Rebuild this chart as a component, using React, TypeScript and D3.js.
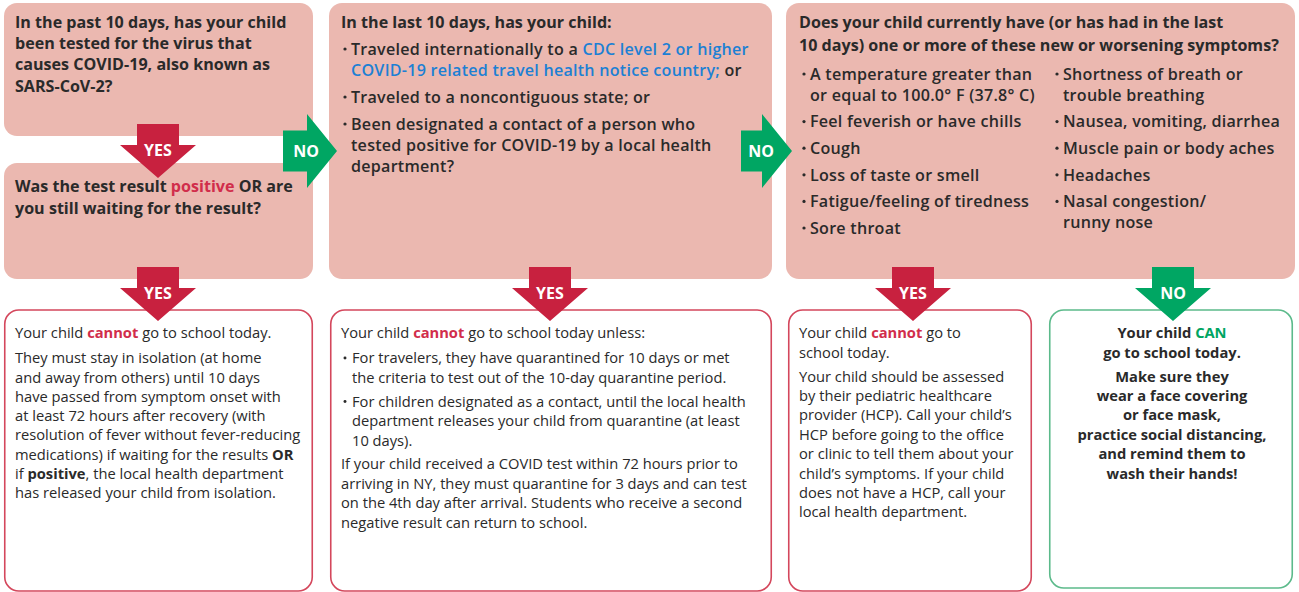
import React from 'react';
import * as d3 from 'd3';

const width = 1299;
const height = 592;

const PINK = '#ebb8b0';
const RED = '#c8213f';
const GREEN = '#00a663';
const INK = '#2a2a2a';
const TONES = { red: '#d12d4b', blue: '#1c80d4', green: '#00a562', bold: INK };

// a line is a list of runs: plain text or [text, tone]
type Tone = 'red' | 'blue' | 'green' | 'bold';
type Run = string | [string, Tone];
type Line = Run[];
type Para = Line[];

// ---- question texts ----
const firstQuestion: Para[] = [[
  ['In the past 10 days, has your child'],
  ['been tested for the virus that'],
  ['causes COVID-19, also known as'],
  ['SARS-CoV-2?'],
]];
const secondQuestion: Para[] = [[
  ['Was the test result ', ['positive', 'red'], ' OR are'],
  ['you still waiting for the result?'],
]];
const travelTitle: Para[] = [[['In the last 10 days, has your child:']]];
const travelItems: Para[] = [
  [['Traveled internationally to a ', ['CDC level 2 or higher', 'blue']],
   [['COVID-19 related travel health notice country;', 'blue'], ' or']],
  [['Traveled to a noncontiguous state; or']],
  [['Been designated a contact of a person who'],
   ['tested positive for COVID-19 by a local health'],
   ['department?']],
];
const symptomTitle: Para[] = [[
  ['Does your child currently have (or has had in the last'],
  ['10 days) one or more of these new or worsening symptoms?'],
]];
const symptomsLeft: Para[] = [
  [['A temperature greater than'], ['or equal to 100.0° F (37.8° C)']],
  [['Feel feverish or have chills']],
  [['Cough']],
  [['Loss of taste or smell']],
  [['Fatigue/feeling of tiredness']],
  [['Sore throat']],
];
const symptomsRight: Para[] = [
  [['Shortness of breath or'], ['trouble breathing']],
  [['Nausea, vomiting, diarrhea']],
  [['Muscle pain or body aches']],
  [['Headaches']],
  [['Nasal congestion/'], ['runny nose']],
];

// ---- outcome texts ----
const isolationText: Para[] = [
  [['Your child ', ['cannot', 'red'], ' go to school today.']],
  [['They must stay in isolation (at home'],
   ['and away from others) until 10 days'],
   ['have passed from symptom onset with'],
   ['at least 72 hours after recovery (with'],
   ['resolution of fever without fever-reducing'],
   ['medications) if waiting for the results ', ['OR', 'bold']],
   ['if ', ['positive', 'bold'], ', the local health department'],
   ['has released your child from isolation.']],
];
const quarantineIntro: Para[] = [[['Your child ', ['cannot', 'red'], ' go to school today unless:']]];
const quarantineItems: Para[] = [
  [['For travelers, they have quarantined for 10 days or met'],
   ['the criteria to test out of the 10-day quarantine period.']],
  [['For children designated as a contact, until the local health'],
   ['department releases your child from quarantine (at least'],
   ['10 days).']],
];
const quarantineNote: Para[] = [[
  ['If your child received a COVID test within 72 hours prior to'],
  ['arriving in NY, they must quarantine for 3 days and can test'],
  ['on the 4th day after arrival. Students who receive a second'],
  ['negative result can return to school.'],
]];
const symptomOutcome: Para[] = [
  [['Your child ', ['cannot', 'red'], ' go to'], ['school today.']],
  [['Your child should be assessed'],
   ['by their pediatric healthcare'],
   ['provider (HCP). Call your child’s'],
   ['HCP before going to the office'],
   ['or clinic to tell them about your'],
   ['child’s symptoms. If your child'],
   ['does not have a HCP, call your'],
   ['local health department.']],
];
const canGoText: Para[] = [
  [['Your child ', ['CAN', 'green']], ['go to school today.']],
  [['Make sure they'], ['wear a face covering'], ['or face mask,'],
   ['practice social distancing,'], ['and remind them to'], ['wash their hands!']],
];

// boxes: [x0, y0, x1, y1]
const questionBoxes = [[4, 3, 313, 136], [4, 163, 313, 279], [329, 3, 772, 279], [786, 3, 1295, 279]];
const outcomeBoxes = [
  { b: [4, 310, 313, 591], c: '#d4475c' },
  { b: [330, 310, 772, 591], c: '#d4475c' },
  { b: [788, 310, 1032, 591], c: '#d4475c' },
  { b: [1049, 310, 1293, 588], c: '#5cba8b' },
];

// arrows
const downArrows = [
  { cx: 158, top: 124, label: 'YES', c: RED },
  { cx: 158, top: 267, label: 'YES', c: RED },
  { cx: 550, top: 267, label: 'YES', c: RED },
  { cx: 913, top: 267, label: 'YES', c: RED },
  { cx: 1173, top: 267, label: 'NO', c: GREEN },
];
const rightArrows = [
  { left: 283, cy: 151, shaft: 24, label: 'NO' },
  { left: 741, cy: 151, shaft: 21, label: 'NO' },
];

const downPath = (cx: number, top: number) => {
  const p = d3.path();
  const sw = 21, hw = 38, sh = 21, hh = 33;
  p.moveTo(cx - sw, top);
  p.lineTo(cx + sw, top);
  p.lineTo(cx + sw, top + sh);
  p.lineTo(cx + hw, top + sh);
  p.lineTo(cx, top + sh + hh);
  p.lineTo(cx - hw, top + sh);
  p.lineTo(cx - sw, top + sh);
  p.closePath();
  return p.toString();
};

const rightPath = (left: number, cy: number, shaft: number) => {
  const p = d3.path();
  const sh = 20.5, hh = 37, hl = 30;
  p.moveTo(left, cy - sh);
  p.lineTo(left + shaft, cy - sh);
  p.lineTo(left + shaft, cy - hh);
  p.lineTo(left + shaft + hl, cy);
  p.lineTo(left + shaft, cy + hh);
  p.lineTo(left + shaft, cy + sh);
  p.lineTo(left, cy + sh);
  p.closePath();
  return p.toString();
};

// place paragraphs: line centres from a linear step plus a gap per paragraph
const layout = (paras: Para[], y0: number, step: number, gap: number) => {
  const counts = paras.map(p => p.length);
  const starts = [0, ...d3.cumsum(counts)].slice(0, paras.length);
  const y = d3.scaleLinear().domain([0, 1]).range([y0, y0 + step]);
  return paras.flatMap((p, pi) =>
    p.map((line, li) => ({ line, y: y(starts[pi] + li) + pi * gap, first: li === 0 }))
  );
};

type BlockProps = {
  paras: Para[]; x: number; y0: number; step: number; gap: number;
  size: number; weight: number; bullet?: number; anchor?: 'start' | 'middle'; spacing?: number;
};

const Block = ({ paras, x, y0, step, gap, size, weight, bullet, anchor = 'start', spacing = 0 }: BlockProps) => (
  <g>
    {layout(paras, y0, step, gap).map((d, i) => (
      <g key={i}>
        {bullet !== undefined && d.first && (
          <circle cx={bullet} cy={d.y} r={size * 0.1} fill={INK} />
        )}
        <text
          x={x}
          y={d.y + size * 0.36}
          fontSize={size}
          fontWeight={weight}
          letterSpacing={spacing}
          fill={INK}
          textAnchor={anchor}
        >
          {d.line.map((r, j) =>
            typeof r === 'string' ? (
              <tspan key={j}>{r}</tspan>
            ) : (
              <tspan key={j} fill={TONES[r[1]]} fontWeight={r[1] === 'blue' ? weight : 700}>{r[0]}</tspan>
            )
          )}
        </text>
      </g>
    ))}
  </g>
);

export default function App() {
  const qs = 16.1;
  const os = 14.7;
  return (
    <svg
      width={width}
      height={height}
      style={{ position: 'absolute', left: 0, top: 0, background: '#fff' }}
      fontFamily="'Open Sans', Lato, sans-serif"
    >
      {questionBoxes.map(([x0, y0, x1, y1], i) => (
        <rect key={i} x={x0} y={y0} width={x1 - x0} height={y1 - y0} rx={13} fill={PINK} />
      ))}
      {outcomeBoxes.map(({ b: [x0, y0, x1, y1], c }, i) => (
        <rect key={i} x={x0 + 0.75} y={y0} width={x1 - x0 - 1.5} height={y1 - y0} rx={14}
          fill="#fff" stroke={c} strokeWidth={1.6} />
      ))}

      <Block paras={firstQuestion} x={15} y0={22} step={21.3} gap={0} size={qs} weight={700} />
      <Block paras={secondQuestion} x={15} y0={186} step={22} gap={0} size={qs} weight={700} />
      <Block paras={travelTitle} x={341} y0={22} step={21} gap={0} size={qs} weight={700} />
      <Block paras={travelItems} x={351} y0={49} step={21} gap={6} size={qs} weight={600} spacing={0.25} bullet={345} />
      <Block paras={symptomTitle} x={799} y0={22} step={23} gap={0} size={qs} weight={700} />
      <Block paras={symptomsLeft} x={810} y0={74} step={21} gap={5.6} size={qs} weight={600} spacing={0.25} bullet={804} />
      <Block paras={symptomsRight} x={1063} y0={74} step={21} gap={5.6} size={qs} weight={600} spacing={0.25} bullet={1057} />

      <Block paras={isolationText} x={15} y0={333} step={19.3} gap={5.7} size={os} weight={400} />
      <Block paras={quarantineIntro} x={341} y0={333} step={19.5} gap={0} size={os} weight={400} />
      <Block paras={quarantineItems} x={352} y0={358} step={19.5} gap={4.5} size={os} weight={400} bullet={345} />
      <Block paras={quarantineNote} x={341} y0={464} step={19.5} gap={0} size={os} weight={400} />
      <Block paras={symptomOutcome} x={799} y0={333} step={19.4} gap={4.6} size={os} weight={400} />
      <Block paras={canGoText} x={1172} y0={333} step={19.4} gap={4.6} size={os} weight={700} anchor="middle" />

      {downArrows.map((a, i) => (
        <g key={i}>
          <path d={downPath(a.cx, a.top)} fill={a.c} />
          <text x={a.cx} y={a.top + 26 + 5.6} textAnchor="middle" fontSize={16} fontWeight={700} fill="#fff">
            {a.label}
          </text>
        </g>
      ))}
      {rightArrows.map((a, i) => (
        <g key={i}>
          <path d={rightPath(a.left, a.cy, a.shaft)} fill={GREEN} />
          <text x={a.left + a.shaft - 1} y={a.cy + 5.6} textAnchor="middle" fontSize={16} fontWeight={700} fill="#fff">
            {a.label}
          </text>
        </g>
      ))}
    </svg>
  );
}
